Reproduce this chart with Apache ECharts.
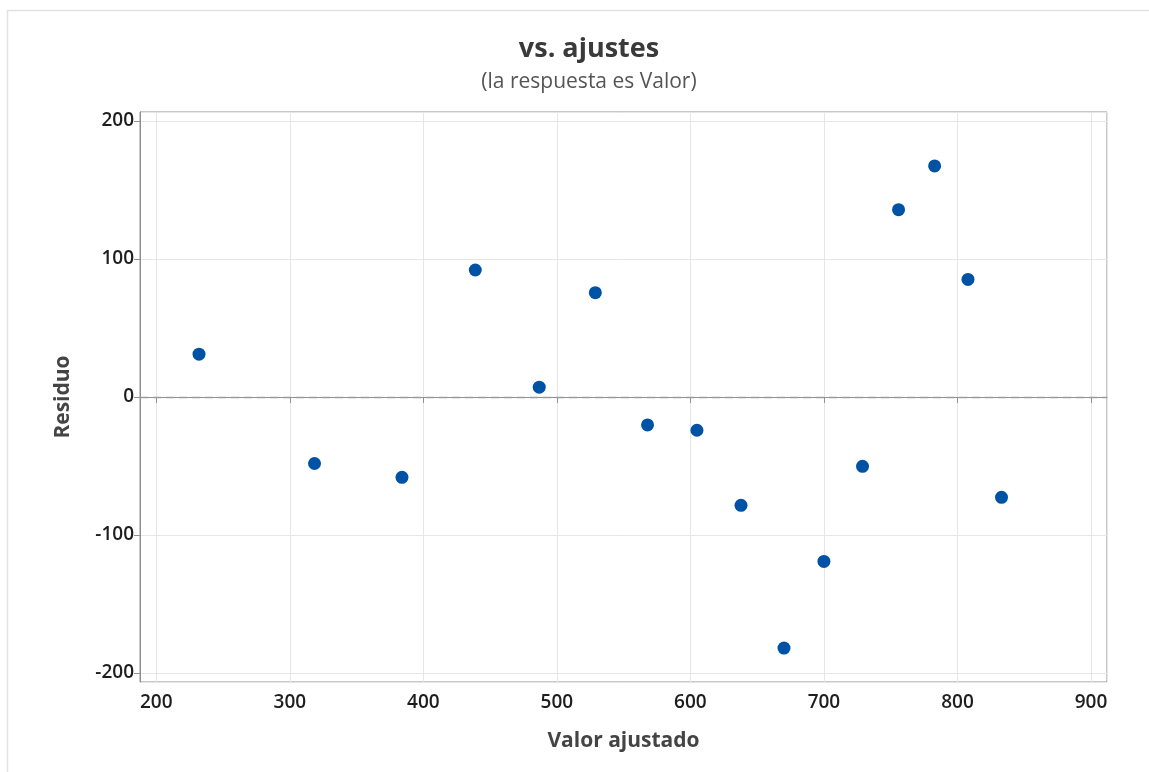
<!DOCTYPE html>
<html>
<head>
<meta charset="utf-8">
<script src="https://cdn.jsdelivr.net/npm/echarts@6/dist/echarts.min.js"></script>
<style>
  html, body { margin: 0; padding: 0; background: #fff; }
  #graph { width: 1149px; height: 772px; }
</style>
</head>
<body>
<div id="graph"></div>
<script>
// valores
const ajustados = [232.0, 318.5, 384.0, 438.9, 486.8, 528.8, 567.9, 604.9,
                   637.9, 670.1, 700.0, 728.9, 755.9, 782.9, 807.9, 833.0];
const residuos = [31.0, -48.2, -58.2, 92.0, 7.1, 75.6, -20.2, -24.1,
                  -78.5, -181.9, -119.1, -50.2, 135.7, 167.4, 85.2, -72.7];
const xRange = [187.8, 912];
const yRange = [-206.5, 206.5];

const puntos = ajustados.map((v, i) => [v, residuos[i]]);
const fuente = '"Open Sans", "Noto Sans", sans-serif';

var mychart = echarts.init(document.getElementById('graph'));
mychart.setOption({
  backgroundColor: '#fff',
  animation: false,
  graphic: [{
    type: 'rect',
    shape: { x: 7.5, y: 10.5, width: 1200, height: 800 },
    style: { fill: 'none', stroke: '#e2e2e2', lineWidth: 1.5 },
    silent: true
  }],
  title: {
    text: 'vs. ajustes',
    subtext: '(la respuesta es Valor)',
    left: 584,
    top: 31,
    textAlign: 'center',
    itemGap: 9,
    textStyle: { fontFamily: fuente, fontSize: 27, fontWeight: 'bold', color: '#3a3a3a' },
    subtextStyle: { fontFamily: fuente, fontSize: 21, color: '#555' }
  },
  grid: {
    left: 140, top: 112, right: 42, bottom: 90,
    show: true,
    borderColor: '#909090',
    borderWidth: 1
  },
  xAxis: {
    type: 'value',
    min: xRange[0],
    max: xRange[1],
    splitNumber: 7,
    name: 'Valor ajustado',
    nameLocation: 'middle',
    nameGap: 49,
    nameTextStyle: { fontFamily: fuente, fontSize: 21, fontWeight: 'bold', color: '#444' },
    axisLine: { show: true, lineStyle: { color: '#909090' } },
    axisTick: { show: true, length: 6, lineStyle: { color: '#909090' } },
    axisLabel: { fontFamily: fuente, fontSize: 19, fontWeight: 600, color: '#1e1e1e', margin: 11,
                 showMinLabel: false, showMaxLabel: false },
    splitLine: { show: true, lineStyle: { color: '#e6e6e6' } }
  },
  yAxis: {
    type: 'value',
    min: yRange[0],
    max: yRange[1],
    splitNumber: 4,
    name: 'Residuo',
    nameLocation: 'middle',
    nameRotate: 90,
    nameGap: 66,
    nameTextStyle: { fontFamily: fuente, fontSize: 21, fontWeight: 'bold', color: '#444' },
    axisLine: { show: true, lineStyle: { color: '#909090' } },
    axisTick: { show: true, length: 6, lineStyle: { color: '#909090' } },
    axisLabel: { fontFamily: fuente, fontSize: 19, fontWeight: 600, color: '#1e1e1e', margin: 6,
                 showMinLabel: false, showMaxLabel: false },
    splitLine: { show: true, lineStyle: { color: '#e6e6e6' } }
  },
  series: [{
    type: 'scatter',
    data: puntos,
    symbol: 'circle',
    symbolSize: 13,
    itemStyle: { color: '#0052a5', opacity: 1 },
    markLine: {
      silent: true,
      symbol: 'none',
      label: { show: false },
      lineStyle: { color: '#9a9a9a', type: [8, 5], width: 1.3 },
      data: [{ yAxis: 0 }]
    }
  }]
});
</script>
</body>
</html>
